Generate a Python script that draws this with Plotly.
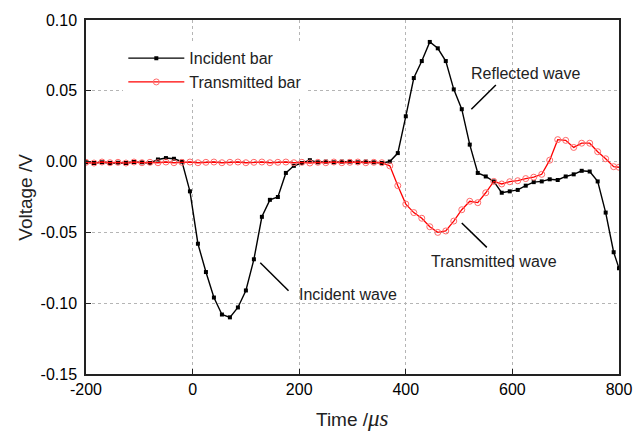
import plotly.graph_objects as go

# Time grid (µs), sampled every 15 µs with a final point at 800
time_us = [-200 + 15 * i for i in range(67)] + [800]

# Incident bar signal (V)
incident_v = [
    -0.0005, -0.0010, -0.0005, -0.0010, -0.0008, -0.0010, -0.0003, -0.0005, -0.0010, 0.0015,
    0.0025, 0.0020, 0.0000, -0.0210, -0.0580, -0.0780, -0.0960, -0.1080, -0.1100, -0.1030,
    -0.0910, -0.0690, -0.0390, -0.0270, -0.0250, -0.0080, -0.0030, -0.0010, 0.0010, -0.0005,
    0.0000, -0.0005, 0.0000, 0.0000, -0.0005, 0.0000, -0.0005, -0.0010, 0.0000, 0.0060,
    0.0320, 0.0590, 0.0710, 0.0845, 0.0800, 0.0710, 0.0510, 0.0370, 0.0120, -0.0080,
    -0.0105, -0.0140, -0.0220, -0.0210, -0.0200, -0.0170, -0.0145, -0.0140, -0.0125, -0.0130,
    -0.0105, -0.0090, -0.0065, -0.0070, -0.0140, -0.0360, -0.0640, -0.0754,
]

# Transmitted bar signal (V)
transmitted_v = [
    -0.0005, -0.0010, -0.0003, -0.0008, -0.0005, -0.0010, -0.0003, -0.0008, -0.0005, -0.0008,
    -0.0003, -0.0008, -0.0005, -0.0003, -0.0008, -0.0005, -0.0003, -0.0008, -0.0005, -0.0003,
    -0.0008, -0.0005, -0.0003, -0.0008, -0.0005, -0.0003, -0.0008, -0.0005, -0.0010, -0.0005,
    -0.0008, -0.0003, -0.0008, -0.0005, -0.0003, -0.0008, -0.0005, -0.0008, -0.0030, -0.0170,
    -0.0300, -0.0360, -0.0400, -0.0460, -0.0500, -0.0490, -0.0420, -0.0340, -0.0280, -0.0290,
    -0.0220, -0.0140, -0.0158, -0.0142, -0.0135, -0.0120, -0.0110, -0.0090, 0.0010, 0.0155,
    0.0150, 0.0100, 0.0130, 0.0130, 0.0070, 0.0020, -0.0036, -0.0040,
]

x_ticks = [-200, 0, 200, 400, 600, 800]
x_tick_labels = ["-200", "0", "200", "400", "600", "800"]
y_ticks = [-0.15, -0.10, -0.05, 0.00, 0.05, 0.10]
y_tick_labels = ["-0.15", "-0.10", "-0.05", "0.00", "0.05", "0.10"]

fig = go.Figure()
fig.add_trace(go.Scatter(
    x=time_us, y=incident_v, name="Incident bar", mode="lines+markers",
    line=dict(color="black", width=1.4),
    marker=dict(symbol="square", size=4, color="black"),
))
fig.add_trace(go.Scatter(
    x=time_us, y=transmitted_v, name="Transmitted bar", mode="lines+markers",
    line=dict(color="#ff0000", width=1.3),
    marker=dict(symbol="circle-open", size=6, color="#ff6a6a", line=dict(width=1)),
))

axis_font = dict(family="Liberation Sans, Arial, sans-serif", size=16, color="black")
fig.update_xaxes(
    range=[-200, 800], tickvals=x_ticks, ticktext=x_tick_labels,
    showline=True, linecolor="#222", linewidth=1.5, mirror=True,
    ticks="inside", ticklen=5, tickwidth=1, tickcolor="#222",
    showgrid=True, gridcolor="#b5b5b5", griddash="dot", gridwidth=1,
    zeroline=False, tickfont=axis_font,
)
fig.update_yaxes(
    range=[-0.15, 0.10], tickvals=y_ticks, ticktext=y_tick_labels,
    showline=True, linecolor="#222", linewidth=1.5, mirror=True,
    ticks="inside", ticklen=5, tickwidth=1, tickcolor="#222",
    showgrid=True, gridcolor="#b5b5b5", griddash="dot", gridwidth=1,
    zeroline=False, tickfont=axis_font, ticklabelstandoff=4,
)

ann_font = dict(family="Liberation Sans, Arial, sans-serif", size=16, color="#222")
annotations = [
    # axis titles
    dict(text="Time /<span style=\"font-family:'Liberation Serif';font-style:italic;font-size:23px\">μs</span>",
         xref="paper", yref="paper", x=0.5, y=-0.125, xanchor="center", yanchor="middle",
         showarrow=False, font=dict(family="Liberation Sans, Arial", size=19, color="#222")),
    dict(text="Voltage /V", xref="paper", yref="paper", x=-0.115, y=0.5, textangle=-90,
         xanchor="center", yanchor="middle", showarrow=False,
         font=dict(family="Liberation Sans, Arial", size=19, color="#222")),
    # curve labels
    dict(text="Incident wave", x=196, y=-0.0935, xanchor="left", yanchor="middle",
         showarrow=False, font=ann_font),
    dict(text="Reflected wave", x=624, y=0.0624, xanchor="center", yanchor="middle",
         showarrow=False, font=ann_font),
    dict(text="Transmitted wave", x=565, y=-0.0707, xanchor="center", yanchor="middle",
         showarrow=False, font=ann_font),
]
fig.update_layout(annotations=annotations)

# leader lines for labels
fig.add_shape(type="line", x0=127, y0=-0.0714, x1=180, y1=-0.0912, line=dict(color="black", width=1.5))
fig.add_shape(type="line", x0=523, y0=0.0370, x1=569, y1=0.0541, line=dict(color="black", width=1.5))
fig.add_shape(type="line", x0=505, y0=-0.0434, x1=552, y1=-0.0606, line=dict(color="black", width=1.5))

fig.update_layout(
    width=644, height=434,
    margin=dict(l=86, r=23, t=20, b=60),
    paper_bgcolor="white", plot_bgcolor="white",
    showlegend=True,
    legend=dict(x=0.07, y=0.94, xanchor="left", yanchor="top",
                bgcolor="white", borderwidth=0,
                font=dict(family="Liberation Sans, Arial, sans-serif", size=16, color="#222"),
                itemwidth=56, tracegroupgap=2),
)

fig.write_html("out.html")
